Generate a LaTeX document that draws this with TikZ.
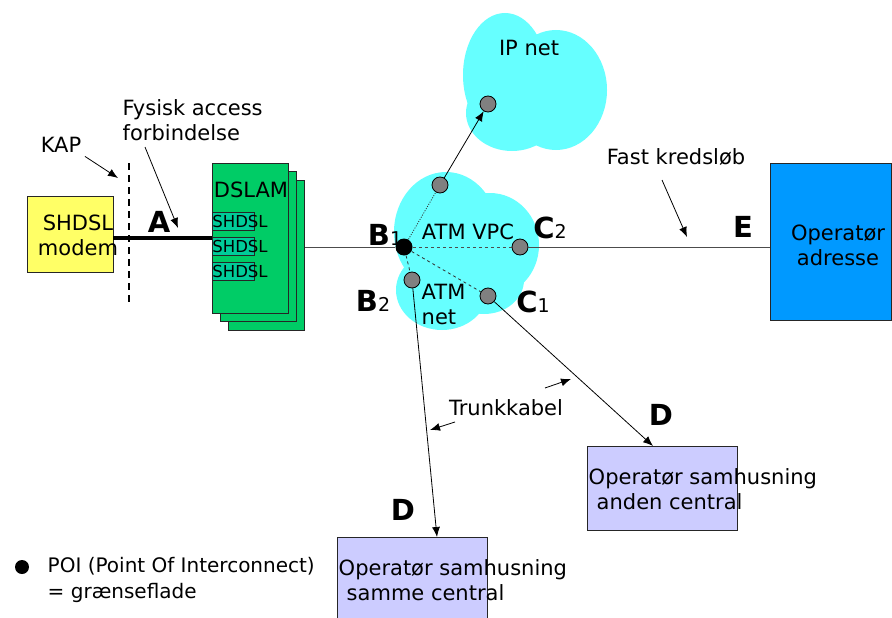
\documentclass[tikz,border=0pt]{standalone}
\usepackage{fontspec}
\setmainfont{DejaVu Sans}
\usetikzlibrary{arrows.meta, positioning, calc}
\definecolor{gulmodem}{HTML}{FFFF66}
\definecolor{groenslam}{HTML}{00CC66}
\definecolor{groenkort}{HTML}{00CC99}
\definecolor{sky}{HTML}{66FFFF}
\definecolor{lilla}{HTML}{CCCCFF}
\definecolor{blaa}{HTML}{0099FF}
\newcommand{\punktnavn}[2]{{\bfseries\fontsize{29}{30}\selectfont #1}{\fontsize{19}{20}\selectfont #2}}

\begin{document}
\begin{tikzpicture}[x=1pt, y=-1pt, font=\fontsize{21}{25}\selectfont, line width=0.8pt,
    boks/.style={draw=black!85, line width=0.9pt, inner sep=0pt},
    pil/.style={-{Latex[length=10pt, width=8pt]}},
    poi/.style={circle, draw=black, fill=gray, minimum size=16pt, inner sep=0pt},
    stor/.style={inner sep=0pt}]
    % Ramme
    \clip (0,0) rectangle (892,618);
    % Skyer
    \fill[sky] (505,75) ellipse [x radius=42pt, y radius=62pt];
    \fill[sky] (556,90) ellipse [x radius=51pt, y radius=60pt];
    \fill[sky] (512,113) ellipse [x radius=46pt, y radius=38pt];
    \fill[sky] (446,232) ellipse [x radius=52pt, y radius=60pt];
    \fill[sky] (490,245) ellipse [x radius=49pt, y radius=52pt];
    \fill[sky] (442,290) ellipse [x radius=46pt, y radius=40pt];
    \fill[sky] (484,280) ellipse [x radius=40pt, y radius=34pt];
    % Bokse
    \node[boks, fill=gulmodem, minimum width=86pt, minimum height=76pt] (modem) at (70,234) {};
    \node[align=center] (modemtekst) at (78,235) {SHDSL\\modem};
    \node[boks, fill=groenslam, minimum width=76pt, minimum height=150pt] (dslam3) at (266.5,255) {};
    \node[boks, fill=groenslam, minimum width=76pt, minimum height=150pt] (dslam2) at (258,246) {};
    \node[boks, fill=groenslam, minimum width=76pt, minimum height=150pt] (dslam1) at (250,238) {};
    \node[inner sep=0pt] (dslamtekst) at (251,190) {DSLAM};
    \foreach \y/\n in {221/1, 246/2, 271/3} {
        \node[boks, line width=0.6pt, fill=groenkort, minimum width=42pt, minimum height=18pt] (kort\n) at (233,\y) {};
        \node[anchor=west, inner sep=0pt, font=\fontsize{16.5}{18}\selectfont] (korttekst\n) at (212,\y) {SHDSL};
    }
    \node[boks, fill=blaa, minimum width=121pt, minimum height=157pt, anchor=north west] (ebox) at (770,163) {};
    \node[align=center] (etekst) at (838,245) {Operatør\\adresse};
    \node[boks, fill=lilla, minimum width=150pt, minimum height=90pt, anchor=north west] (samme) at (337,537) {};
    \node[anchor=west, align=left] (sammetekst) at (335,580) {Operatør samhusning\\\hspace*{8pt}samme central};
    \node[boks, fill=lilla, minimum width=150pt, minimum height=84pt, anchor=north west] (anden) at (587,446) {};
    \node[anchor=west, align=left] (andentekst) at (585,489) {Operatør samhusning\\\hspace*{8pt}anden central};
    % Punkter
    \node[circle, fill=black, minimum size=17pt, inner sep=0pt] (b1) at (404,247) {};
    \node[poi] (atmtop) at (440,185) {};
    \node[poi] (ippkt) at (488,104) {};
    \node[poi] (c2) at (520,247) {};
    \node[poi] (b2) at (412,280) {};
    \node[poi] (c1) at (488,296) {};
    % Forbindelser
    \draw[line width=3.5pt] (modem.east |- 0,238) -- (dslam1.west |- 0,238);
    \coordinate (kaptop) at (129,163);
    \coordinate (kapbund) at (129,303);
    \draw[line width=2.5pt, dash pattern=on 7pt off 5pt] (kaptop) -- (kapbund);
    \draw[black!70, line width=1pt] (dslam3.east |- b1) -- (b1);
    \draw[black!70, line width=1pt] (c2) -- (ebox.west |- c2);
    \draw[black!70, dashed, line width=1pt] (b1) -- (c2);
    \draw[black!80, dashed] (b1) -- (b2);
    \draw[black!80, dashed] (b1) -- (c1);
    \draw[black!80, dash pattern=on 1pt off 1.5pt] (b1) -- (atmtop);
    \draw[pil] (atmtop) -- (ippkt);
    \coordinate (dspids1) at (437,537);
    \coordinate (dspids2) at (653,446);
    \draw[pil] (b2) -- (dspids1);
    \draw[pil] (c1) -- (dspids2);
    % Tekster
    \node (ipnet) at (529,48) {IP net};
    \node (atmvpc) at (468,232) {ATM VPC};
    \node[anchor=west, align=left] (atmnet) at (418,304) {ATM\\net};
    \node (kap) at (61,145) {KAP};
    \coordinate (kappil) at (118,178);
    \draw[pil] (kap.south east) -- (kappil);
    \node[anchor=west, align=left] (fysisk) at (119,120) {Fysisk access\\forbindelse};
    \coordinate (fysiskstart) at (145,147);
    \coordinate (fysiskpil) at (178,228);
    \draw[pil] (fysiskstart) -- (fysiskpil);
    \node (fast) at (676,157) {Fast kredsløb};
    \coordinate (faststart) at (662,180);
    \coordinate (fastpil) at (687,237);
    \draw[pil] (faststart) -- (fastpil);
    \node (trunk) at (506,408) {Trunkkabel};
    \coordinate (trunkstart1) at (455,422);
    \coordinate (trunkpil1) at (430,430);
    \coordinate (trunkstart2) at (545,388);
    \coordinate (trunkpil2) at (571,379);
    \draw[pil] (trunkstart1) -- (trunkpil1);
    \draw[pil] (trunkstart2) -- (trunkpil2);
    % Graensepunkter
    \node[stor] (a) at (159,222) {\punktnavn{A}{}};
    \node[stor] (b1navn) at (385,235) {\punktnavn{B}{1}};
    \node[stor] (b2navn) at (373,301) {\punktnavn{B}{2}};
    \node[stor] (c2navn) at (550,228) {\punktnavn{C}{2}};
    \node[stor] (c1navn) at (533,302) {\punktnavn{C}{1}};
    \node[stor] (d1) at (661,415) {\punktnavn{D}{}};
    \node[stor] (d2) at (403,510) {\punktnavn{D}{}};
    \node[stor] (e) at (743,227) {\punktnavn{E}{}};
    % Forklaring
    \node[circle, fill=black, minimum size=14pt, inner sep=0pt] (poidot) at (22,567) {};
    \node[anchor=west, align=left, font=\fontsize{20}{26}\selectfont] (poitekst) at (44,580) {POI (Point Of Interconnect)\\= grænseflade};
\end{tikzpicture}
\end{document}
